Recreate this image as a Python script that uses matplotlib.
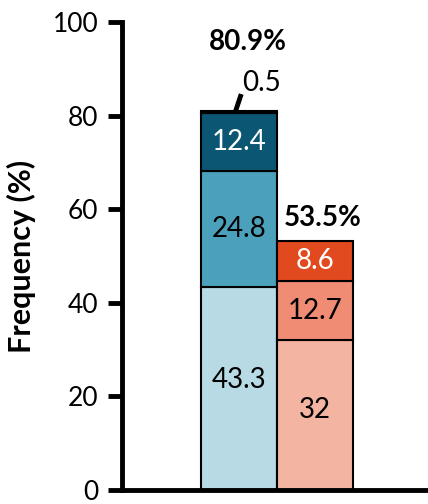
import matplotlib
matplotlib.use("Agg")
import matplotlib.pyplot as plt
import numpy as np

plt.rcParams['font.family'] = ['Lato', 'DejaVu Sans']

# stacked segments, bottom to top
blue_vals = [43.3, 24.8, 12.4, 0.5]
red_vals = [32, 12.7, 8.6]
blue_colors = ['#b8dae4', '#4ba1bb', '#0b5673', '#0b5673']
red_colors = ['#f3b4a1', '#ef8c73', '#e1491e']
blue_text = ['black', 'black', 'white', None]
red_text = ['black', 'black', 'white']
totals = ['80.9%', '53.5%']
yticks = [0, 20, 40, 60, 80, 100]

fig = plt.figure(figsize=(4.28, 5.04), dpi=100)
ax = fig.add_axes([122 / 428, 14 / 504, 306 / 428, 468 / 504])

def draw_stack(x, vals, colors, tcolors, first_shift):
    bottom = 0.0
    for i, (v, c, tc) in enumerate(zip(vals, colors, tcolors)):
        ax.bar(x, v, width=1.0, bottom=bottom, color=c, edgecolor='black',
               linewidth=1.5, zorder=2)
        if tc is not None:
            yy = bottom + v / 2 + (first_shift if i == 0 else 0)
            ax.text(x, yy, f"{v:g}", ha='center', va='center',
                    color=tc, fontsize=20, zorder=3)
        bottom += v
    return bottom

top_b = draw_stack(0, blue_vals, blue_colors, blue_text, 1.9)
top_r = draw_stack(1, red_vals, red_colors, red_text, 1.1)

# small top segment labelled with a leader line
ax.plot([-0.05, 0.03], [top_b - 0.3, top_b + 3.6], color='black', lw=3.5,
        solid_capstyle='butt', zorder=3)
ax.text(0.3, top_b + 6.0, f"{blue_vals[-1]:g}", ha='center', va='center',
        fontsize=20)

ax.text(0.12, 95.7, totals[0], ha='center', va='center', fontsize=20,
        fontweight='bold')
ax.text(1.1, 58.1, totals[1], ha='center', va='center', fontsize=20,
        fontweight='bold')

ax.set_xlim(-1.539, 2.487)
ax.set_ylim(0, 100)
ax.set_yticks(yticks)
ax.set_yticklabels([str(t) for t in yticks], fontsize=19)
ax.set_xticks([])
ax.tick_params(axis='y', length=10, width=3.5, pad=7)
for s in ['top', 'right']:
    ax.spines[s].set_visible(False)
ax.spines['left'].set_linewidth(3.5)
ax.spines['bottom'].set_linewidth(3.5)
ax.set_ylabel('Frequency (%)', fontsize=22, fontweight='bold', labelpad=12)

fig.savefig('out.png', dpi=100)
